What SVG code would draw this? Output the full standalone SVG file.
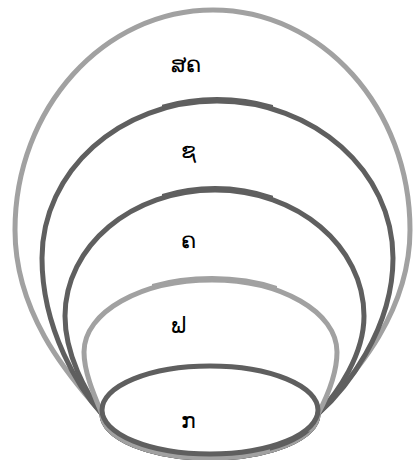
<svg xmlns="http://www.w3.org/2000/svg" width="414" height="460" viewBox="0 0 414 460">
<style>
.s{fill:none;stroke-width:5}
.g{stroke:#a1a1a1}
.d{stroke:#5f5f5f}
text{font-family:"Noto Sans",sans-serif;font-size:22px;fill:#000}
</style>
<defs>
<clipPath id="c2"><rect x="162" y="90" width="111" height="20"/></clipPath>
<clipPath id="c3"><rect x="162" y="180" width="111" height="20"/></clipPath>
<clipPath id="c4"><rect x="152" y="270" width="125" height="20"/></clipPath>
<clipPath id="cb"><rect x="270" y="430" width="60" height="30"/></clipPath>
</defs>
<rect width="414" height="460" fill="#fff"/>
<g id="n1">
<path class="s g" d="M102 414C85 392 15 325 15 230C15 108 104 10 213 10C322 10 410 108 410 230C410 325 336 392 318 414A108 44 0 0 1 102 414Z"/>
<text x="171" y="72">ສຄ</text>
</g>
<g id="n2">
<path id="p2" class="s d" d="M102 414C80 390 42 330 42 258C42 171 120 101 217 101C314 101 393 171 393 258C393 330 345 390 318 414A108 44 0 0 1 102 414Z"/>
<use href="#p2" clip-path="url(#c2)" transform="translate(0,-1.5)"/>
<text x="181" y="158">ຊ</text>
</g>
<g id="n3">
<path id="p3" class="s d" d="M102 414C86 392 65 355 65 316C65 246 132 190 215 190C297 190 364 246 364 316C364 355 338 392 318 414A108 44 0 0 1 102 414Z"/>
<use href="#p3" clip-path="url(#c3)" transform="translate(0,-1.5)"/>
<text x="181" y="248">ຄ</text>
</g>
<g id="n4">
<path id="p4" class="s g" d="M102 414C94 395 84 372 84 352C84 312 141 280 212 280C281 280 337 312 337 352C337 372 328 395 318 414A108 44 0 0 1 102 414Z"/>
<use href="#p4" clip-path="url(#c4)" transform="translate(0,-1.5)"/>
<text x="171" y="333">ຟ</text>
</g>
<g id="n5">
<ellipse id="p5" class="s d" cx="210" cy="410" rx="108" ry="44"/>
<use href="#p5" clip-path="url(#cb)" transform="translate(0,1.5)"/>
<text x="181" y="428">ກ</text>
</g>
<g id="connectors"/>
</svg>
